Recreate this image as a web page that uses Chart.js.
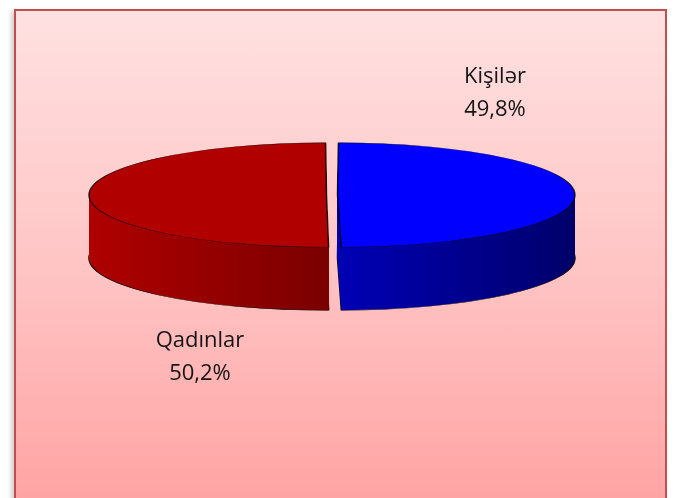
<!DOCTYPE html>
<html>
<head>
<meta charset="utf-8">
<script src="https://cdn.jsdelivr.net/npm/chart.js@4.4.1/dist/chart.umd.min.js"></script>
<style>
  html, body { margin: 0; padding: 0; width: 675px; height: 498px; overflow: hidden; background: #fff; }
  #box {
    position: absolute; left: 14px; top: 9px; width: 649px; height: 520px;
    border: 2px solid #c0504d;
    background: linear-gradient(to bottom, #ffe1e1 0%, #ffc4c4 50%, #ff9f9f 100%);
    box-shadow: -3px 2px 4px rgba(0,0,0,0.18);
  }
  #pie { position: absolute; left: 0; top: 0; }
</style>
</head>
<body>
<div id="box"></div>
<canvas id="pie" width="675" height="498"></canvas>
<script>
  const categories = ['Kişilər', 'Qadınlar'];
  const shares = [49.8, 50.2];
  const topColors = ['#0000ff', '#b00000'];
  const sideColors = [['#0000b4', '#000068'], ['#b00000', '#7c0000']];

  // flattening of the pie and extrusion depth
  const tilt = 0.22;
  const depth = 63;
  const topCenterY = 195;

  function tiltTo(ctx, el, dy) {
    ctx.translate(el.x, topCenterY + dy);
    ctx.scale(1, tilt);
    ctx.translate(-el.x, -el.y);
  }

  const pie3d = {
    id: 'pie3d',
    beforeDatasetsDraw(chart) {
      const ctx = chart.ctx;
      const arcs = chart.getDatasetMeta(0).data;
      // side walls: draw the slices again, stepped downwards
      for (let d = depth; d >= 1; d--) {
        ctx.save();
        tiltTo(ctx, arcs[0], d);
        arcs.forEach((el, i) => {
          const g = ctx.createLinearGradient(i === 0 ? 338 : 90, 0, i === 0 ? 575 : 327, 0);
          g.addColorStop(0, sideColors[i][0]);
          g.addColorStop(1, sideColors[i][1]);
          const o = el.options;
          el.options = Object.assign({}, o, {
            backgroundColor: g,
            borderWidth: d === depth ? 1.5 : 0,
            borderColor: '#000'
          });
          el.draw(ctx);
          el.options = o;
        });
        ctx.restore();
      }
      ctx.save();
      tiltTo(ctx, arcs[0], 0);
    },
    afterDatasetsDraw(chart) {
      const ctx = chart.ctx;
      ctx.restore();
      ctx.save();
      ctx.fillStyle = '#141414';
      ctx.font = '22px "Open Sans", Calibri, sans-serif';
      ctx.textAlign = 'center';
      ctx.textBaseline = 'middle';
      const spots = [[495, 77], [200, 341]];
      categories.forEach((c, i) => {
        const [x, y] = spots[i];
        ctx.fillText(c, x, y);
        ctx.fillText(shares[i].toFixed(1).replace('.', ',') + '%', x, y + 33);
      });
      ctx.restore();
    }
  };

  new Chart(document.getElementById('pie'), {
    type: 'pie',
    data: {
      labels: categories,
      datasets: [{
        data: shares,
        backgroundColor: topColors,
        borderColor: 'rgba(0,0,0,0.8)',
        borderWidth: 1.5,
        offset: 22,
        radius: 232,
        clip: false
      }]
    },
    options: {
      responsive: false,
      animation: false,
      layout: { padding: { left: 0, right: 11, top: 0, bottom: 0 } },
      plugins: { legend: { display: false }, tooltip: { enabled: false } }
    },
    plugins: [pie3d]
  });
</script>
</body>
</html>
